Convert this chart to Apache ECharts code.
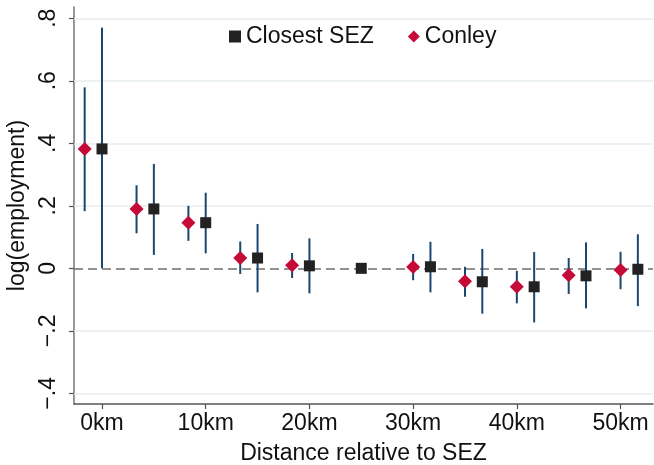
<!DOCTYPE html>
<html>
<head>
<meta charset="utf-8">
<script src="https://cdn.jsdelivr.net/npm/echarts@6/dist/echarts.min.js"></script>
<style>
    html, body {margin: 0; padding: 0; background: #ffffff;}
    #chartBox {width: 654px; height: 465px;}
</style>
</head>
<body>
<div id="chartBox"></div>
<script>
/**
 * 距离经济特区的就业效应
 */
var xTicks = [0, 10, 20, 30, 40, 50];
var yTicks = [-0.4, -0.2, 0, 0.2, 0.4, 0.6, 0.8];

// Conley
var conleyX = [-1.67, 3.33, 8.33, 13.33, 18.33, 30, 35, 40, 45, 50];
var conleyEst = [0.382, 0.19, 0.146, 0.033, 0.01, 0.004, -0.041, -0.059, -0.022, -0.005];
var conleyLow = [0.183, 0.112, 0.088, -0.018, -0.031, -0.038, -0.091, -0.112, -0.082, -0.067];
var conleyHigh = [0.579, 0.266, 0.2, 0.086, 0.049, 0.046, 0.005, -0.008, 0.033, 0.053];

// Closest SEZ
var closestX = [0, 5, 10, 15, 20, 25, 31.67, 36.67, 41.67, 46.67, 51.67];
var closestEst = [0.382, 0.19, 0.146, 0.033, 0.008, 0, 0.005, -0.043, -0.059, -0.024, -0.003];
var closestLow = [0.0, 0.043, 0.048, -0.077, -0.08, null, -0.077, -0.145, -0.173, -0.128, -0.121];
var closestHigh = [0.77, 0.334, 0.242, 0.142, 0.096, null, 0.085, 0.062, 0.052, 0.083, 0.109];

(function(){

    var _font = '"Liberation Sans", Arial, Helvetica, sans-serif',
        _barColor = '#1a476f',
        _chart;

    function toPoints(_x, _y){
        var _list = [];
        for(var i = 0; i < _x.length; i++){
            _list.push([_x[i], _y[i]]);
        }
        return _list;
    }

    function toBars(_x, _low, _high){
        var _list = [];
        for(var i = 0; i < _x.length; i++){
            if(_low[i] === null || _high[i] === null){
                continue;
            }
            _list.push([_x[i], _low[i], _high[i]]);
        }
        return _list;
    }

    function renderErrorBar(_params, _api){
        var _x = _api.value(0),
            _lo = _api.coord([_x, _api.value(1)]),
            _hi = _api.coord([_x, _api.value(2)]);
        return {
            type: 'line',
            shape: {x1: _lo[0], y1: _lo[1], x2: _hi[0], y2: _hi[1]},
            style: {stroke: _barColor, lineWidth: 2}
        };
    }

    function formatY(_v){
        var _r = Math.round(_v * 10) / 10;
        if(_r === 0){
            return '0';
        }
        var _s = Math.abs(_r).toFixed(1).replace('0.', '.');
        return (_r < 0 ? '\u2212' : '') + _s;
    }

    //获取参数
    function getParams(){
        return {
            backgroundColor: '#ffffff',
            animation: false,
            textStyle: {fontFamily: _font},
            grid: {left: 74, right: 1, top: 7, bottom: 61, containLabel: false, outerBoundsMode: 'none'},
            legend: {
                left: 224,
                top: 20,
                itemWidth: 12,
                itemHeight: 12,
                itemGap: 34,
                textStyle: {fontSize: 23, color: '#111111', fontFamily: _font},
                data: [
                    {name: 'Closest SEZ', icon: 'rect'},
                    {name: 'Conley', icon: 'diamond'}
                ]
            },
            xAxis: {
                type: 'value',
                min: -2.7,
                max: 53.13,
                name: 'Distance relative to SEZ',
                nameLocation: 'middle',
                nameGap: 38,
                nameTextStyle: {fontSize: 23, color: '#111111', fontFamily: _font},
                axisLine: {show: true, onZero: false, lineStyle: {color: '#555555', width: 1.5}},
                axisTick: {show: true, length: 5, customValues: xTicks, lineStyle: {color: '#555555', width: 1.2}},
                axisLabel: {
                    customValues: xTicks,
                    fontSize: 23,
                    color: '#111111',
                    margin: 8,
                    formatter: function(_v){ return Math.round(_v) + 'km'; }
                },
                splitLine: {show: false}
            },
            yAxis: {
                type: 'value',
                min: -0.434,
                max: 0.836,
                name: 'log(employment)',
                nameLocation: 'middle',
                nameGap: 40,
                nameTextStyle: {fontSize: 23, color: '#111111', fontFamily: _font},
                axisLine: {show: true, onZero: false, lineStyle: {color: '#777777', width: 1.5}},
                axisTick: {show: true, length: 5, customValues: yTicks, lineStyle: {color: '#555555', width: 1.2}},
                axisLabel: {
                    customValues: yTicks,
                    rotate: 90,
                    fontSize: 23,
                    color: '#111111',
                    margin: 14,
                    formatter: formatY
                },
                splitLine: {show: false}
            },
            series: [
                {
                    name: 'grid',
                    type: 'scatter',
                    data: [],
                    silent: true,
                    z: 1,
                    markLine: {
                        silent: true,
                        z: 1,
                        symbol: 'none',
                        label: {show: false},
                        animation: false,
                        data: (function(){
                            var _result = [];
                            for(var i in yTicks){
                                if(yTicks[i] === 0){
                                    continue;
                                }
                                _result.push({
                                    yAxis: yTicks[i],
                                    lineStyle: {color: '#e6eef0', width: 1.5, type: 'solid'}
                                });
                            }
                            _result.push({
                                yAxis: 0,
                                lineStyle: {color: '#6e6e6e', width: 1.6, type: [9, 5]}
                            });
                            return _result;
                        })()
                    }
                },
                {
                    name: 'Conley CI',
                    type: 'custom',
                    renderItem: renderErrorBar,
                    data: toBars(conleyX, conleyLow, conleyHigh),
                    z: 2
                },
                {
                    name: 'Closest SEZ CI',
                    type: 'custom',
                    renderItem: renderErrorBar,
                    data: toBars(closestX, closestLow, closestHigh),
                    z: 2
                },
                {
                    name: 'Closest SEZ',
                    type: 'scatter',
                    symbol: 'rect',
                    symbolSize: 11,
                    itemStyle: {color: '#222222', opacity: 1},
                    data: toPoints(closestX, closestEst),
                    z: 3
                },
                {
                    name: 'Conley',
                    type: 'scatter',
                    symbol: 'diamond',
                    symbolSize: 14,
                    itemStyle: {color: '#c50a38', opacity: 1},
                    data: toPoints(conleyX, conleyEst),
                    z: 3
                }
            ]
        };
    }

    //渲染图表
    function renderChartBox(){
        _chart = echarts.init(document.getElementById('chartBox'));
        _chart.setOption(getParams());
    }

    renderChartBox();
})();
</script>
</body>
</html>
